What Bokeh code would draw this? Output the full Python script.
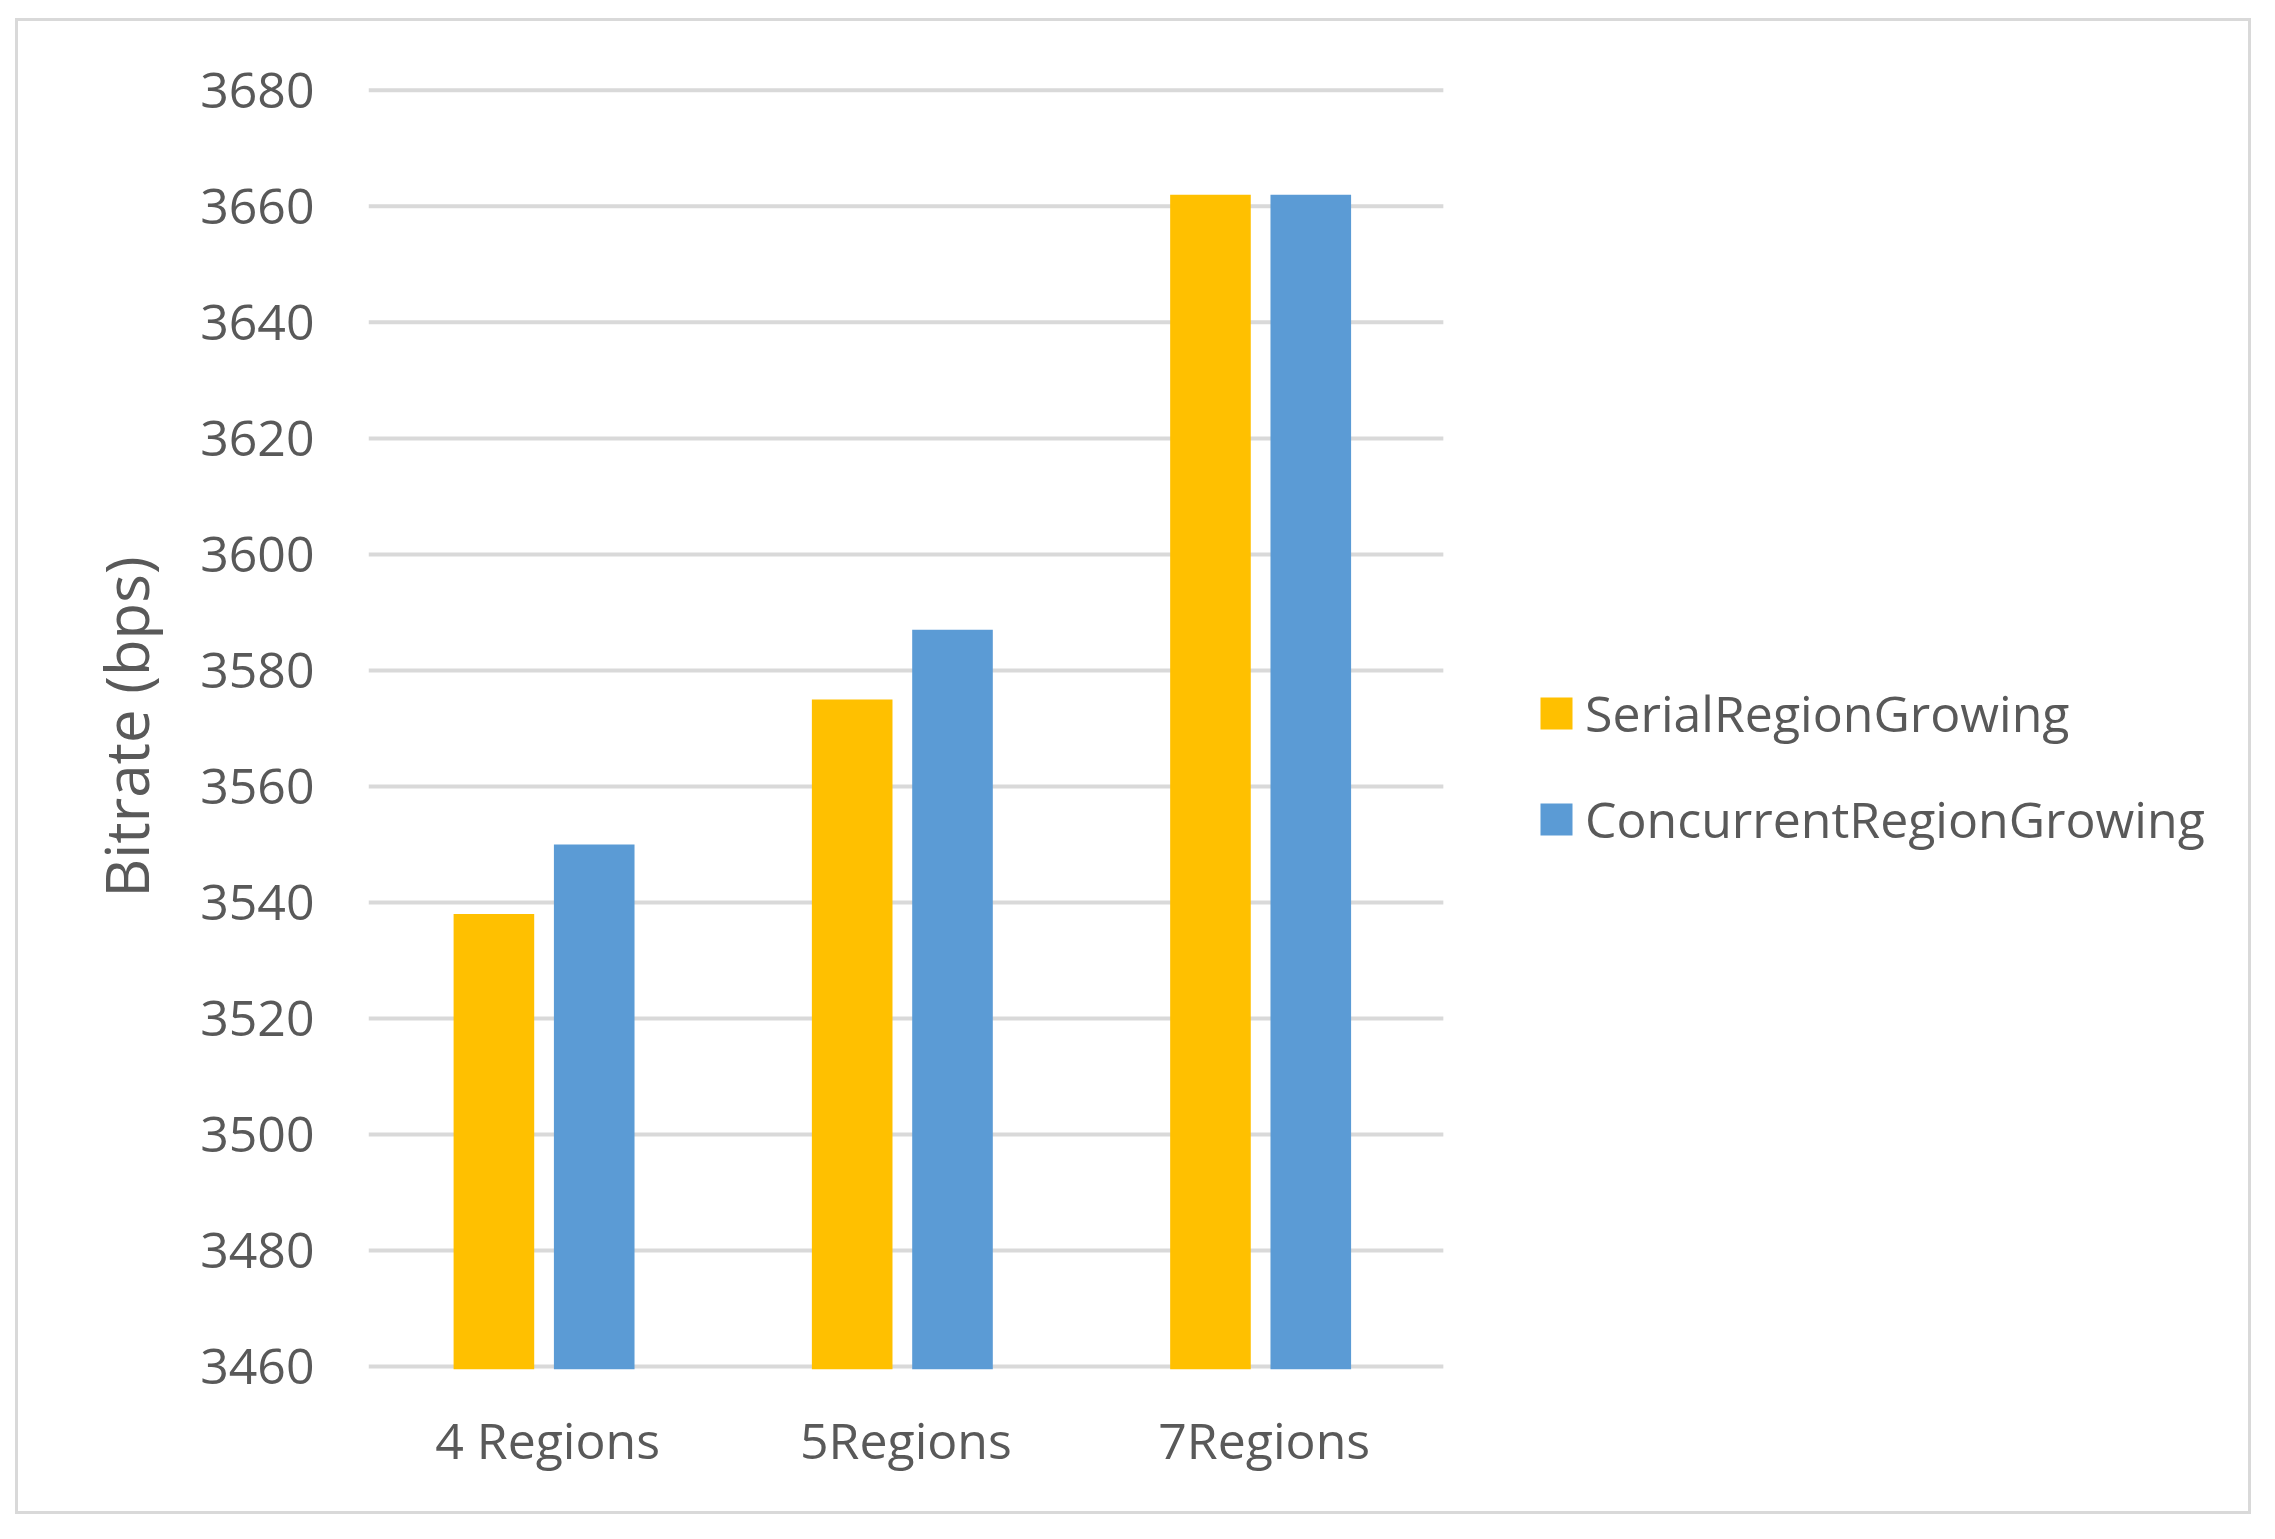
from bokeh.plotting import figure
from bokeh.models import FixedTicker, Legend, LegendItem, Spacer, Range1d
from bokeh.layouts import column, row
from bokeh.transform import dodge
from bokeh.embed import file_html
from bokeh.resources import INLINE

categories = ["4 Regions", "5Regions", "7Regions"]
serial = [3538, 3575, 3662]
concurrent = [3550, 3587, 3662]
y_ticks = [3460, 3480, 3500, 3520, 3540, 3560, 3580, 3600, 3620, 3640, 3660, 3680]
series_names = ["SerialRegionGrowing", "ConcurrentRegionGrowing"]

FONT = "Open Sans"
TEXT = "#595959"
GRID = "#D9D9D9"
Y0 = 3459.5

# category slots on a numeric axis (slot i spans [i, i+1]); extra room on the right holds the legend
positions = [i + 0.5 for i in range(len(categories))]
n_cat = len(categories)

p = figure(
    x_range=Range1d(0, 5.264),
    y_range=Range1d(Y0, 3681),
    width=2236, height=1496,
    output_backend="svg", toolbar_location=None,
    min_border_left=350, min_border_right=0,
    min_border_top=63, min_border_bottom=148,
)
p.styles = {"border": "3px solid #D9D9D9", "box-sizing": "border-box"}
p.outline_line_color = None
p.background_fill_color = "white"
p.border_fill_color = "white"

# horizontal gridlines across the category area only
p.xgrid.grid_line_color = None
p.ygrid.grid_line_color = None
p.segment(x0=0, x1=n_cat, y0=y_ticks, y1=y_ticks, line_color=GRID, line_width=4)

data = dict(pos=positions, cat=categories, serial=serial, concurrent=concurrent)
r1 = p.vbar(x=dodge("pos", -0.15), top="serial", bottom=Y0,
            width=0.225, source=data, color="#FFC000", line_color=None)
r2 = p.vbar(x=dodge("pos", 0.13), top="concurrent", bottom=Y0,
            width=0.225, source=data, color="#5B9BD5", line_color=None)

p.yaxis.ticker = FixedTicker(ticks=y_ticks)
p.yaxis.axis_line_color = None
p.yaxis.major_tick_line_color = None
p.yaxis.minor_tick_line_color = None
p.yaxis.major_tick_out = 0
p.yaxis.major_tick_in = 0
p.yaxis.major_label_standoff = 54
p.yaxis.major_label_text_font = FONT
p.yaxis.major_label_text_font_size = "50px"
p.yaxis.major_label_text_color = TEXT
p.yaxis.axis_label = "Bitrate (bps)"
p.yaxis.axis_label_text_font = FONT
p.yaxis.axis_label_text_font_size = "60px"
p.yaxis.axis_label_text_font_style = "normal"
p.yaxis.axis_label_text_color = TEXT
p.yaxis.axis_label_standoff = 30

p.xaxis.ticker = FixedTicker(ticks=positions)
p.xaxis.major_label_overrides = {pos: cat for pos, cat in zip(positions, categories)}
p.xaxis.axis_line_color = None
p.xaxis.major_tick_line_color = None
p.xaxis.minor_tick_line_color = None
p.xaxis.major_tick_out = 0
p.xaxis.major_tick_in = 0
p.xaxis.major_label_standoff = 36
p.xaxis.major_label_text_font = FONT
p.xaxis.major_label_text_font_size = "50px"
p.xaxis.major_label_text_color = TEXT

legend = Legend(
    items=[LegendItem(label=series_names[0], renderers=[r1]),
           LegendItem(label=series_names[1], renderers=[r2])],
    location=(1168, 516),
    orientation="vertical",
    glyph_width=40, glyph_height=40,
    label_standoff=9, spacing=38,
    padding=0, margin=0,
    border_line_color=None, background_fill_alpha=0,
    label_text_font=FONT, label_text_font_size="50px",
    label_text_color=TEXT,
)
p.add_layout(legend, "center")

layout = column(Spacer(height=18), row(Spacer(width=15), p))
open("out.html", "w").write(file_html(layout, INLINE))
